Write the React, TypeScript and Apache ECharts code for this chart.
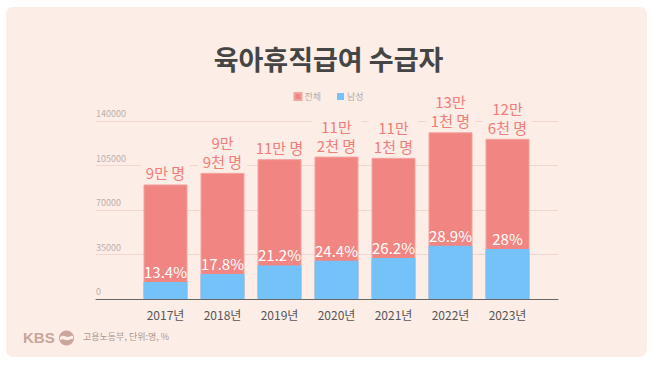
import React, { useEffect, useRef } from 'react';
import * as echarts from 'echarts';

const categories = ['2017년', '2018년', '2019년', '2020년', '2021년', '2022년', '2023년'];
const totalValues = [90100, 99200, 110000, 112000, 111000, 131100, 126000];
const maleValues = [13400, 19700, 26400, 30100, 32300, 41900, 39300];
const malePercents = ['13.4%', '17.8%', '21.2%', '24.4%', '26.2%', '28.9%', '28%'];
const totalLabels = ['9만 명', '9만\n9천 명', '11만 명', '11만\n2천 명', '11만\n1천 명', '13만\n1천 명', '12만\n6천 명'];
const legendNames = ['전체', '남성'];
const yMin = 0;
const yMax = 140000;
const yInterval = 35000;

const FONT = '"Noto Sans CJK KR", "Noto Sans", sans-serif';
const CARD = '#FCEDE7';
const RED = '#F08582';
const BLUE = '#74C2F8';

let registered = false;
function registerLogo() {
  if (registered) return;
  registered = true;
  const d = 'M-6.5,-0.5 C-4,-4 -1,-1 1,-1 C3,-1 4.5,-3 6.5,-2 L6.5,1.2 C4.5,0.5 3,2.5 0.5,2.2 C-2,2 -4,0 -6.5,2.5 Z';
  echarts.graphic.registerShape('kbswave', echarts.graphic.extendPath(d, {}));
}

export default function App() {
  const ref = useRef<HTMLDivElement>(null);

  useEffect(() => {
    if (!ref.current) return;
    registerLogo();
    const chart = echarts.init(ref.current, undefined, { renderer: 'svg' });
    chart.setOption({
      animation: false,
      backgroundColor: 'transparent',
      textStyle: { fontFamily: FONT },
      title: {
        text: '육아휴직급여 수급자',
        left: 'center',
        top: 40,
        textStyle: { fontSize: 27, fontWeight: 'bold', color: '#454545', fontFamily: FONT },
      },
      legend: {
        data: legendNames,
        top: 87,
        left: 'center',
        icon: 'rect',
        itemWidth: 7,
        itemHeight: 7,
        itemGap: 16,
        textStyle: { color: '#b8aaa6', fontSize: 9, padding: [0, 0, 0, -2] },
      },
      grid: [
        { left: 96, right: 99, top: 121, bottom: 69 },
        { left: 137, right: 121, top: 121, bottom: 69 },
      ],
      xAxis: [
        {
          gridIndex: 0,
          type: 'value',
          min: 0,
          max: 1,
          axisLine: { show: true, onZero: false, lineStyle: { color: '#666', width: 1 } },
          axisTick: { show: false },
          axisLabel: { show: false },
          splitLine: { show: false },
        },
        {
          gridIndex: 1,
          type: 'category',
          data: categories,
          axisLine: { show: false },
          axisTick: { show: false },
          axisLabel: { color: '#555', fontSize: 12, margin: 9, fontFamily: FONT },
        },
      ],
      yAxis: [
        {
          gridIndex: 0,
          type: 'value',
          min: yMin,
          max: yMax,
          interval: yInterval,
          axisLine: { show: false },
          axisTick: { show: false },
          splitLine: { lineStyle: { color: '#F0D6CD', width: 1 } },
          axisLabel: {
            inside: true,
            margin: 0,
            verticalAlign: 'bottom',
            padding: [0, 0, 3, 0],
            color: '#bdb0ac',
            fontSize: 9,
            formatter: (v: number) => String(v),
          },
        },
        { gridIndex: 1, type: 'value', min: yMin, max: yMax, interval: yInterval, show: false },
      ],
      series: [
        {
          name: legendNames[0],
          type: 'bar',
          xAxisIndex: 1,
          yAxisIndex: 1,
          data: totalValues,
          barWidth: 44,
          barGap: '-100%',
          itemStyle: { color: RED, borderColor: '#F3A3A0', borderWidth: 1 },
          label: {
            show: true,
            position: 'top',
            distance: 2,
            formatter: (p: any) => totalLabels[p.dataIndex],
            color: '#F07D7A',
            fontSize: 15,
            lineHeight: 19,
            backgroundColor: CARD,
            padding: [0, 5, 0, 5],
          },
        },
        {
          name: legendNames[1],
          type: 'bar',
          xAxisIndex: 1,
          yAxisIndex: 1,
          data: maleValues,
          barWidth: 44,
          barGap: '-100%',
          itemStyle: { color: BLUE },
          label: {
            show: true,
            position: 'top',
            distance: 3,
            formatter: (p: any) => malePercents[p.dataIndex],
            color: '#ffffff',
            fontSize: 15,
          },
        },
      ],
      graphic: [
        {
          type: 'text',
          left: 23,
          top: 330,
          style: {
            text: 'KBS',
            fill: '#C9A59C',
            fontSize: 15,
            fontWeight: 'bold',
            fontFamily: '"Liberation Sans", Arial, sans-serif',
          },
        },
        {
          type: 'circle',
          shape: { cx: 66.5, cy: 338, r: 7.5 },
          style: { fill: '#C9A59C' },
        },
        {
          type: 'kbswave',
          x: 66.5,
          y: 338,
          scaleX: 1,
          scaleY: 1,
          style: { fill: CARD },
        },
        {
          type: 'text',
          left: 83,
          top: 332,
          style: {
            text: '고용노동부, 단위:명, %',
            fill: '#A9988F',
            fontSize: 9,
            fontFamily: FONT,
          },
        },
      ],
    });
    return () => chart.dispose();
  }, []);

  return (
    <div style={{ position: 'fixed', left: 0, top: 0, width: 657, height: 368, background: '#ffffff' }}>
      <div
        style={{
          position: 'absolute',
          left: 6,
          top: 7,
          width: 641,
          height: 350,
          background: CARD,
          borderRadius: 7,
        }}
      />
      <div ref={ref} style={{ position: 'absolute', left: 0, top: 0, width: 657, height: 368 }} />
    </div>
  );
}
